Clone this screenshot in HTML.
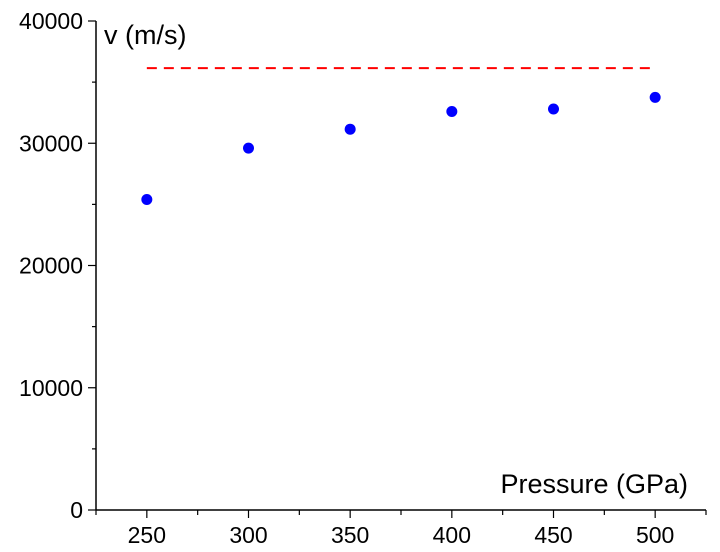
<!DOCTYPE html>
<html><head><meta charset="utf-8"><style>
body{margin:0;background:#fff;}
svg{display:block;font-family:"Liberation Sans",Arial,sans-serif;}
</style></head><body>
<svg id="chart" width="720" height="552" viewBox="0 0 720 552" xmlns="http://www.w3.org/2000/svg">
<g id="axes"></g>
<g id="marks"></g>
<text x="104" y="44" font-size="27">v (m/s)</text>
<text x="688" y="493" font-size="27" text-anchor="end">Pressure (GPa)</text>
</svg>
<script>
const pressures=[250,300,350,400,450,500];
const velocities=[25400,29600,31150,32600,32800,33750];
const limitValue=36150;
const xTicks=[250,300,350,400,450,500];
const yTicks=[0,10000,20000,30000,40000];
const NS="http://www.w3.org/2000/svg";
const X0=96,X1=706,XMIN=225,XMAX=525;
const Y0=510,Y1=21,YMIN=0,YMAX=40000;
function sx(v){return X0+(v-XMIN)/(XMAX-XMIN)*(X1-X0);}
function sy(v){return Y0-(v-YMIN)/(YMAX-YMIN)*(Y0-Y1);}
function mk(t,a,p){const e=document.createElementNS(NS,t);for(const k in a)e.setAttribute(k,a[k]);p.appendChild(e);return e;}
const axes=document.getElementById('axes'),marks=document.getElementById('marks');
let e=mk('line',{x1:X0,y1:Y1,x2:X0,y2:Y0,stroke:'#000','stroke-width':1.5},axes);


e=mk('line',{x1:X0,y1:Y0,x2:X1,y2:Y0,stroke:'#000','stroke-width':1.5},axes);


for(let v=0;v<=YMAX;v+=5000){const major=v%10000===0;
 e=mk('line',{x1:X0-(major?8:4),y1:sy(v),x2:X0,y2:sy(v),stroke:'#000','stroke-width':1.2},axes);
 
 }
yTicks.forEach(v=>{e=mk('text',{x:X0-13,y:sy(v)+8,'font-size':23,'text-anchor':'end'},axes);e.textContent=v;
 
 });
for(let v=225;v<=525;v+=25){const major=v%50===0;
 e=mk('line',{x1:sx(v),y1:Y0,x2:sx(v),y2:Y0+(major?8:5),stroke:'#000','stroke-width':1.2},axes);
 
 }
xTicks.forEach(v=>{e=mk('text',{x:sx(v),y:Y0+33,'font-size':23,'text-anchor':'middle'},axes);e.textContent=v;
 
 });
e=mk('line',{x1:sx(pressures[0]),y1:sy(limitValue),x2:sx(pressures[pressures.length-1]),y2:sy(limitValue),stroke:'#ff0000','stroke-width':2,'stroke-dasharray':'10,7'},marks);


pressures.forEach((p,i)=>{e=mk('circle',{cx:sx(p),cy:sy(velocities[i]),r:5.5,fill:'#0000ff'},marks);
 
 });
</script>
</body></html>
